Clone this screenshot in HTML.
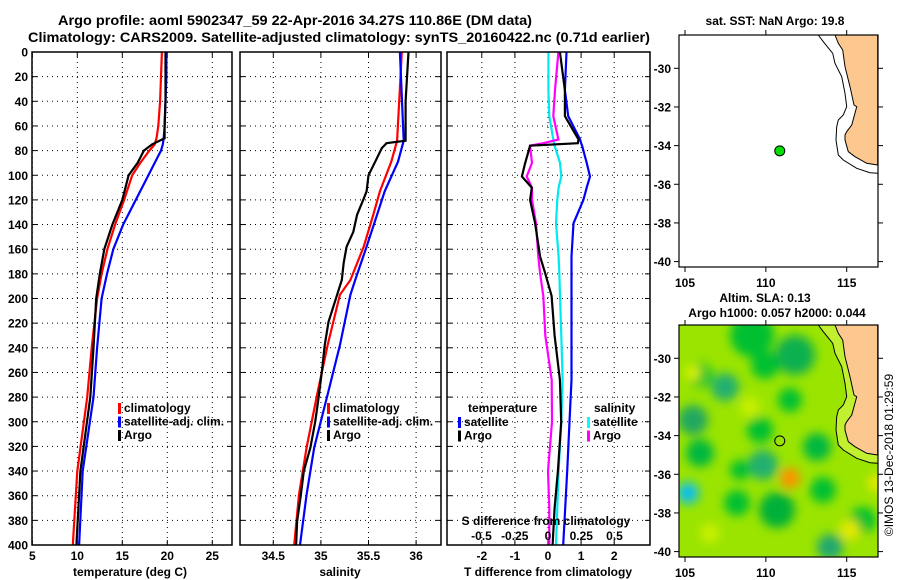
<!DOCTYPE html>
<html><head><meta charset="utf-8"><style>
html,body{margin:0;padding:0;background:#fff;}
svg{display:block;font-family:"Liberation Sans",sans-serif;font-weight:bold;}
</style></head><body>
<svg id="fig" width="900" height="580" viewBox="0 0 900 580" xmlns="http://www.w3.org/2000/svg">
<defs>
<filter id="blur" x="-50%" y="-50%" width="200%" height="200%"><feGaussianBlur stdDeviation="5"/></filter>
<clipPath id="mapclip"><rect x="679" y="325" width="199" height="232"/></clipPath>
</defs>
<text x="58" y="25" font-size="13.5" textLength="474" lengthAdjust="spacingAndGlyphs">Argo profile: aoml 5902347_59 22-Apr-2016 34.27S 110.86E (DM data)</text>
<text x="28" y="42" font-size="13.5" textLength="622" lengthAdjust="spacingAndGlyphs">Climatology: CARS2009. Satellite-adjusted climatology: synTS_20160422.nc (0.71d earlier)</text>
<g id="g"></g>
</svg>
<script>
// depth axis data
const depthT=[0,20,40,60,70,75,80,90,100,120,140,160,180,200,240,280,340,400];
const tempClim=[19.4,19.3,19.2,19.0,18.8,18.6,18.0,17.0,16.1,15.2,14.2,13.35,12.7,12.2,11.6,11.1,10.0,9.5];
const tempSat=[19.9,19.9,19.8,19.7,19.6,19.5,19.3,18.6,17.9,16.5,15.1,14.0,13.3,12.7,12.2,11.8,10.6,10.2];
const tempArgo=[19.8,19.8,19.8,19.7,19.7,18.3,17.4,16.7,15.7,15.0,13.9,13.0,12.5,12.1,11.8,11.45,10.35,9.9];

const depthS=[0,40,72,74,78,89,100,113,119,132,146,158,171,185,197,219,238,259,278,300,321,340,359,381,400];
const salArgo=[35.92,35.89,35.89,35.69,35.64,35.57,35.50,35.48,35.45,35.38,35.34,35.27,35.24,35.22,35.17,35.08,35.04,35.01,34.98,34.94,34.89,34.82,34.79,34.75,34.74];
const depthS2=[0,72,89,113,132,158,185,197,238,278,321,359,400];
const salClim=[35.85,35.80,35.74,35.62,35.55,35.45,35.31,35.20,35.07,34.96,34.85,34.77,34.72];
const salSat=[35.83,35.87,35.81,35.67,35.59,35.48,35.36,35.31,35.20,35.07,34.93,34.85,34.78];

const depthD=[0,31,52,71,74,76,90,101,110,120,139,166,179,198,230,266,300,340,370,400];
const dTsat=[0.56,0.51,0.61,0.97,1.0,1.03,1.17,1.27,1.17,1.07,0.77,0.71,0.71,0.71,0.71,0.71,0.65,0.58,0.52,0.46];
const dTargo=[0.36,0.51,0.51,0.92,0.9,-0.54,-0.69,-0.79,-0.49,-0.54,-0.39,-0.24,-0.09,0.11,0.2,0.36,0.4,0.3,0.2,0.14];
const dSsat=[0.003,0.003,0.01,0.04,0.045,0.05,0.09,0.10,0.08,0.07,0.06,0.08,0.085,0.09,0.1,0.11,0.1,0.08,0.07,0.06];
const dSargo=[0.078,0.053,0.04,0.078,-0.035,-0.135,-0.12,-0.16,-0.12,-0.12,-0.09,-0.073,-0.06,-0.035,-0.02,0.028,0.03,0.0,0.01,0.01];

const depthTicks=[0,20,40,60,80,100,120,140,160,180,200,220,240,260,280,300,320,340,360,380,400];
const tTicks=[5,10,15,20,25];
const sTicks=[34.5,35,35.5,36];
const dTTicks=[-2,-1,0,1,2];
const dSTicks=[-0.5,-0.25,0,0.25,0.5];
const dSTickLabels=["-0.5","-0.25","0","0.25","0.5"];
const lonTicks=[105,110,115];
const latTicks=[-30,-32,-34,-36,-38,-40];
const argoLon=110.86, argoLat=-34.27;

const NS="http://www.w3.org/2000/svg";
const G=document.getElementById('g');
function el(tag,attrs,parent){const e=document.createElementNS(NS,tag);for(const k in attrs)e.setAttribute(k,attrs[k]);(parent||G).appendChild(e);return e;}
function txt(x,y,s,size,anchor,parent){const t=el('text',{x:x,y:y,'font-size':size||12,'text-anchor':anchor||'start'},parent);t.textContent=s;return t;}

const TOP=52, BOT=545;
const yD=d=>TOP+(d/400)*(BOT-TOP);
const xT=v=>32.3+(v-5)*9.0;
const xS=v=>273.3+(v-34.5)*95.2;
const xdT=v=>548+v*33.1;
const xdS=v=>548+v*133;

function panel(name,x0,x1){
  const g=el('g',{});
  
  
  depthTicks.forEach(d=>{
    if(d>0&&d<400){const l=el('line',{x1:x0,x2:x1,y1:yD(d),y2:yD(d),stroke:'#000','stroke-width':1,'stroke-dasharray':'1,4'},g);
    
    }
    el('line',{x1:x0,x2:x0+5,y1:yD(d),y2:yD(d),stroke:'#000'},g);
    el('line',{x1:x1-5,x2:x1,y1:yD(d),y2:yD(d),stroke:'#000'},g);
  });
  return g;
}
function vgrid(g,x){el('line',{x1:x,x2:x,y1:TOP,y2:BOT,stroke:'#000','stroke-width':1,'stroke-dasharray':'1,4'},g);
  el('line',{x1:x,x2:x,y1:BOT-5,y2:BOT,stroke:'#000'},g);el('line',{x1:x,x2:x,y1:TOP,y2:TOP+5,stroke:'#000'},g);}
function frame(g,x0,x1){el('rect',{x:x0,y:TOP,width:x1-x0,height:BOT-TOP,fill:'none',stroke:'#000','stroke-width':1.5},g);}
function series(g,name,xs,ds,fx,color){
  const p=el('polyline',{points:xs.map((v,i)=>fx(v).toFixed(1)+','+yD(ds[i]).toFixed(1)).join(' '),fill:'none',stroke:color,'stroke-width':2.2},g);
  
  
}
function legend(g,x,y,items){items.forEach((it,i)=>{
  const r=el('rect',{x:x,y:y+i*13.5-9,width:3,height:11,fill:it[1]},g);
  
  
  const t=txt(x+6,y+i*13.5,it[0],12,'start',g);
  
  
});}

// Panel 1
const p1=panel('temperature-panel',32,232);
tTicks.forEach(v=>{vgrid(p1,xT(v));const t=txt(xT(v),560,String(v),12,'middle',p1);});
depthTicks.forEach(d=>{const t=txt(28,yD(d)+4.5,String(d),12,'end',p1);});
series(p1,'climatology-temp-line',tempClim,depthT,xT,'#ff0000');
series(p1,'satellite-temp-line',tempSat,depthT,xT,'#0000ff');
series(p1,'argo-temp-line',tempArgo,depthT,xT,'#000');
frame(p1,32,232);
legend(p1,118,412,[['climatology','#f00'],['satellite-adj. clim.','#00f'],['Argo','#000']]);
const xl1=txt(130,576,'temperature (deg C)',12,'middle',p1);

// Panel 2
const p2=panel('salinity-panel',240,441);
sTicks.forEach(v=>{vgrid(p2,xS(v));const t=txt(xS(v),560,String(v),12,'middle',p2);});
series(p2,'climatology-sal-line',salClim,depthS2,xS,'#ff0000');
series(p2,'satellite-sal-line',salSat,depthS2,xS,'#0000ff');
series(p2,'argo-sal-line',salArgo,depthS,xS,'#000');
frame(p2,240,441);
legend(p2,327,412,[['climatology','#f00'],['satellite-adj. clim.','#00f'],['Argo','#000']]);
const xl2=txt(340,576,'salinity',12,'middle',p2);

// Panel 3
const p3=panel('difference-panel',447,650);
dTTicks.forEach(v=>{vgrid(p3,xdT(v));const t=txt(xdT(v),560,String(v),12,'middle',p3);});
series(p3,'sal-sat-diff-line',dSsat,depthD,xdS,'#00e8f0');
series(p3,'sal-argo-diff-line',dSargo,depthD,xdS,'#ff00ff');
series(p3,'temp-sat-diff-line',dTsat,depthD,xdT,'#0000ff');
series(p3,'temp-argo-diff-line',dTargo,depthD,xdT,'#000');
frame(p3,447,650);
dSTicks.forEach((v,i)=>{const t=txt(xdS(v),540,dSTickLabels[i],12,'middle',p3);});
const sl=txt(546,525,'S difference from climatology',12,'middle',p3);
const lt=txt(468,412,'temperature',12,'start',p3);
legend(p3,458,426,[['satellite','#00f'],['Argo','#000']]);
const ls=txt(594,412,'salinity',12,'start',p3);
legend(p3,587,426,[['satellite','#0ff'],['Argo','#f0f']]);
const xl3=txt(548,576,'T difference from climatology',12,'middle',p3);

// Maps
const mx=lon=>685+(lon-105)*16.17;
const land=[[835,35],[838.3,43.3],[842.7,50],[845,66.7],[850,86.7],[854,105],[856.7,106.7],[854,116.7],[851.7,125],[846.7,131.7],[845,135],[845,140],[848.3,151.7],[855,156.7],[866.7,163.3],[877.7,165],[877.7,35]];
const contour=[[818.3,35],[823.3,41.7],[832.7,53.3],[835,63.3],[841.7,76.7],[845,93.3],[846.7,106.7],[843.3,115],[838.3,120],[836.7,126.7],[836,140],[838.3,155],[843.3,160],[856.7,168.3],[870,172.7],[877.7,173.3]];
const blobs=[[752,335,22,'#00c030'],[795,355,20,'#10b050'],[765,365,14,'#00c030'],[725,387,14,'#20b070'],[700,375,12,'#00c030'],[693,420,15,'#20a860'],[700,453,14,'#00b840'],[763,465,15,'#20b070'],[760,430,13,'#00c030'],[790,400,12,'#00c030'],[817,447,14,'#00b840'],[823,490,13,'#00c030'],[777,510,18,'#00b038'],[737,503,13,'#00c030'],[830,547,13,'#20a870'],[863,520,13,'#00c030'],[740,470,10,'#00c030'],[688,493,11,'#10c0e8'],[790,478,10,'#ff9000'],[693,373,8,'#d8f000'],[750,407,10,'#c8f000'],[850,530,10,'#e8e800'],[877,483,9,'#e8e800'],[710,533,10,'#c8f000']];
function map(name,oy,isAlt){
  const g=el('g',{});
  
  
  const my=lat=>oy+68.3+(-30-lat)*19.33;
  const pts=a=>a.map(p=>p[0]+','+(p[1]+oy)).join(' ');
  if(isAlt){
    const cg=el('g',{'clip-path':'url(#mapclip)'},g);
    el('rect',{x:679,y:325,width:199,height:232,fill:'#9ae400'},cg);
    const bg=el('g',{filter:'url(#blur)'},cg);
    blobs.forEach(b=>el('circle',{cx:b[0],cy:b[1],r:b[2],fill:b[3]},bg));
    el('polygon',{points:pts(contour.concat([[877.7,35]])),fill:'#c0f030'},cg);
  }
  const lp=el('polygon',{points:pts(land),fill:'#fcc890',stroke:'#000','stroke-width':1},g);
  
  
  el('polyline',{points:pts(contour),fill:'none',stroke:'#000','stroke-width':1},g);
  el('rect',{x:679,y:35+oy,width:199,height:232,fill:'none',stroke:'#000','stroke-width':1.2},g);
  lonTicks.forEach(v=>{const x=mx(v);el('line',{x1:x,x2:x,y1:oy+35,y2:oy+30,stroke:'#000'},g);el('line',{x1:x,x2:x,y1:oy+267,y2:oy+272,stroke:'#000'},g);
    const t=txt(x,oy+287,String(v),12,'middle',g);});
  latTicks.forEach(v=>{const y=my(v);el('line',{x1:679,x2:674,y1:y,y2:y,stroke:'#000'},g);el('line',{x1:878,x2:883,y1:y,y2:y,stroke:'#000'},g);
    const t=txt(671,y+4.5,String(v),12,'end',g);});
  const c=el('circle',{cx:mx(argoLon),cy:my(argoLat),r:5,fill:isAlt?'none':'#00e000',stroke:'#000','stroke-width':1},g);
  
  
  return g;
}
const m1=map('sst-map',0,false);
const t1=txt(775,25,'sat. SST: NaN Argo: 19.8',12,'middle',m1);
const m2=map('sla-map',290,true);
const t2=txt(765,302,'Altim. SLA: 0.13',12,'middle',m2);
const t3=txt(777,317,'Argo h1000: 0.057 h2000: 0.044',12,'middle',m2);
const cp=txt(0,0,'©IMOS 13-Dec-2018 01:29:59',12,'middle',G);
cp.setAttribute('transform','translate(893,455) rotate(-90)');
cp.setAttribute('font-weight','normal');


</script>
</body></html>
